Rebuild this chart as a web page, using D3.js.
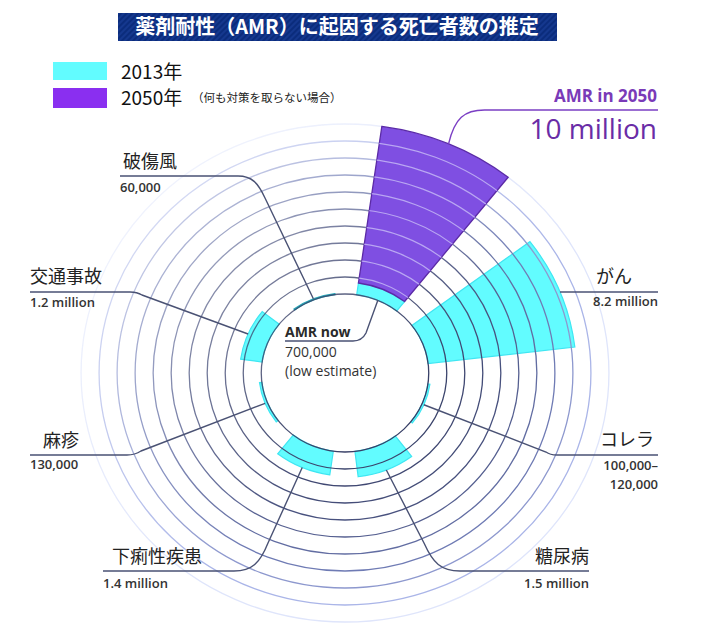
<!DOCTYPE html>
<html><head><meta charset="utf-8">
<script src="https://cdn.jsdelivr.net/npm/d3@7"></script>
<style>body{margin:0;background:#fff}</style>
</head><body><svg id="c" width="718" height="633"></svg>
<script>
// ---- data (values in millions of deaths per year) ----
const categories = ["AMR", "がん", "コレラ", "糖尿病", "下痢性疾患", "麻疹", "交通事故", "破傷風"];
const values2013 = [0.7, 8.2, 0.11, 1.5, 1.4, 0.13, 1.2, 0.06];
const amr2050 = 10;
const valueLabels = ["700,000", "8.2 million", "100,000–|120,000", "1.5 million", "1.4 million", "130,000", "1.2 million", "60,000"];
const ringTicks = [0, 1, 2, 3, 4, 5, 6, 7, 8, 9, 10];
const legendLabels = ["2013年", "2050年"];
const title = "薬剤耐性（AMR）に起因する死亡者数の推定";

const svg = d3.select("#c");
const cx = 345, cy = 373, sx = 1.06;
const CYAN = "#62fcff", PURPLE = "#7f4fe2", PURPLE_LEG = "#8a2ff0";
const JP = "'Noto Sans CJK JP','Noto Sans',sans-serif";
const LAT = "'Open Sans','Noto Sans',sans-serif";
const LINE = "#4a5274";

const defs = svg.append("defs");
const pat = defs.append("pattern").attr("id", "stripes").attr("patternUnits", "userSpaceOnUse")
  .attr("width", 4).attr("height", 4).attr("patternTransform", "rotate(45)");
pat.append("rect").attr("width", 4).attr("height", 4).attr("fill", "#0b2c7c");
pat.append("rect").attr("width", 2).attr("height", 4).attr("fill", "#15388e");

// fade mask for the rings (upper-left lighter)
const lg = defs.append("linearGradient").attr("id", "fadeGrad").attr("gradientUnits", "userSpaceOnUse")
  .attr("x1", 110).attr("y1", 130).attr("x2", 380).attr("y2", 420);
lg.append("stop").attr("offset", 0).attr("stop-color", "#fff").attr("stop-opacity", 0.35);
lg.append("stop").attr("offset", 1).attr("stop-color", "#fff").attr("stop-opacity", 1);
defs.append("mask").attr("id", "fade").attr("maskUnits", "userSpaceOnUse")
  .attr("x", 0).attr("y", 0).attr("width", 718).attr("height", 633)
  .append("rect").attr("width", 718).attr("height", 633).attr("fill", "url(#fadeGrad)");

// title
svg.append("rect").attr("x", 118).attr("y", 13).attr("width", 439).attr("height", 28).attr("fill", "url(#stripes)");
svg.append("text").attr("x", 337).attr("y", 34).attr("text-anchor", "middle")
  .attr("font-family", JP).attr("font-weight", 700).attr("font-size", 20).attr("fill", "#fff").text(title);

// legend
const legColors = [CYAN, PURPLE_LEG];
legendLabels.forEach((t, i) => {
  svg.append("rect").attr("x", 53).attr("y", 62 + i * 26).attr("width", 54).attr("height", i ? 20 : 18).attr("fill", legColors[i]);
  svg.append("text").attr("x", 121).attr("y", 79 + i * 26).attr("font-family", JP).attr("font-size", 19).attr("fill", "#111").text(t);
});
svg.append("text").attr("x", 192).attr("y", 102).attr("font-family", JP).attr("font-size", 11.5).attr("fill", "#222").text("（何も対策を取らない場合）");

// scales
const r = d3.scaleLinear().domain([0, 10]).range([79, 249]);
const ang = d3.scaleBand().domain(categories)
  .range([0.6 * Math.PI / 180, 360.6 * Math.PI / 180]).paddingInner(0.33).paddingOuter(0.165);
const mid = c => ang(c) + ang.bandwidth() / 2;
const pt = (a, rr) => [cx + sx * rr * Math.sin(a), cy - rr * Math.cos(a)];
const tf = `translate(${cx},${cy}) scale(${sx},1)`;
const arc = d3.arc();

// cyan 2013 wedges
const g = svg.append("g").attr("transform", tf);
categories.forEach((c, i) => {
  g.append("path").attr("d", arc({innerRadius: r(0), outerRadius: r(values2013[i]), startAngle: ang(c), endAngle: ang(c) + ang.bandwidth()}))
    .attr("fill", CYAN).attr("stroke", c === "破傷風" ? "#2aa8b8" : "#3fe6f2").attr("stroke-width", 1.2)
    .attr("vector-effect", "non-scaling-stroke");
});

// rings
const ringColor = d3.scaleLinear().domain([0, 4, 7, 9, 10]).range(["#373f66", "#48517e", "#6f7bb4", "#aab5e8", "#dfe5fb"]);
svg.append("g").attr("mask", "url(#fade)").append("g").attr("transform", tf)
  .selectAll("circle").data(ringTicks).join("circle")
  .attr("r", d => r(d)).attr("fill", "none")
  .attr("stroke", d => ringColor(d)).attr("stroke-width", 1.3)
  .attr("vector-effect", "non-scaling-stroke");

// purple 2050 wedge
const g2 = svg.append("g").attr("transform", tf);
const amrArc = {innerRadius: r(values2013[0]), outerRadius: r(amr2050), startAngle: ang("AMR"), endAngle: ang("AMR") + ang.bandwidth()};
defs.append("clipPath").attr("id", "pclip").append("path").attr("d", arc(amrArc));
g2.append("path").attr("d", arc(amrArc)).attr("fill", PURPLE).attr("stroke", "#5b2aa6").attr("stroke-width", 1.3)
  .attr("vector-effect", "non-scaling-stroke");
g2.append("g").attr("clip-path", "url(#pclip)").selectAll("circle").data(ringTicks.slice(1, 10)).join("circle")
  .attr("r", d => r(d)).attr("fill", "none").attr("stroke", "#b9a6f2").attr("stroke-width", 1.2)
  .attr("vector-effect", "non-scaling-stroke");

// leaders
function leader(d, color) {
  svg.append("path").attr("d", d).attr("fill", "none").attr("stroke", color || LINE).attr("stroke-width", 1.4);
}
const P = (c, v) => pt(mid(c), r(v));
let p;
p = P("AMR", amr2050);
leader(`M${p[0]},${p[1]} C${p[0] + 6},${p[1] - 26} ${p[0] + 16},110 ${p[0] + 36},110 H658`, "#7b3fc4");
p = P("AMR", 0);
leader(`M${p[0]},${p[1]} L366,333 Q362,341 353,341 H285`);
{
  const rr = r(values2013[1]);
  const a = Math.acos((cy - 292) / rr);
  leader(`M${cx + sx * rr * Math.sin(a)},292 H658`);
}
p = P("コレラ", values2013[2]);
leader(`M${p[0]},${p[1]} L546,452 Q550,455 557,455 H658`);
p = P("糖尿病", values2013[3]);
leader(`M${p[0]},${p[1]} L424,543 C433,563 441,571 460,571 H589`);
p = P("下痢性疾患", values2013[4]);
leader(`M${p[0]},${p[1]} L268,543 C260,563 252,571 234,571 H103`);
p = P("麻疹", values2013[5]);
leader(`M${p[0]},${p[1]} L141,451 Q135,455 127,455 H30`);
p = P("交通事故", values2013[6]);
leader(`M${p[0]},${p[1]} L142,295 Q137,292 130,292 H30`);
p = P("破傷風", values2013[7]);
leader(`M${p[0]},${p[1]} L265,198 C258,183 252,176 238,176 H120`);

// labels
function jp(x, y, t, anchor) {
  svg.append("text").attr("x", x).attr("y", y).attr("text-anchor", anchor || "start")
    .attr("font-family", JP).attr("font-size", 18).attr("fill", "#222").text(t);
}
function val(x, y, t, anchor) {
  svg.append("text").attr("x", x).attr("y", y).attr("text-anchor", anchor || "start")
    .attr("font-family", LAT).attr("font-weight", 600).attr("font-size", 13).attr("fill", "#333").text(t);
}
const lab = c => valueLabels[categories.indexOf(c)];
jp(123, 168, "破傷風"); val(120, 192, lab("破傷風"));
jp(30, 283, "交通事故"); val(30, 307, lab("交通事故"));
jp(43, 447, "麻疹"); val(30, 469, lab("麻疹"));
jp(112, 563, "下痢性疾患"); val(103, 588, lab("下痢性疾患"));
jp(589, 563, "糖尿病", "end"); val(589, 588, lab("糖尿病"), "end");
jp(654, 446, "コレラ", "end");
lab("コレラ").split("|").forEach((s, i) => val(658, 470 + i * 19, s, "end"));
jp(632, 283, "がん", "end"); val(658, 306, lab("がん"), "end");

// AMR texts
svg.append("text").attr("x", 657).attr("y", 102).attr("text-anchor", "end")
  .attr("font-family", LAT).attr("font-weight", 700).attr("font-size", 17).attr("fill", "#7a3ab8").text("AMR in 2050");
svg.append("text").attr("x", 657).attr("y", 139).attr("text-anchor", "end")
  .attr("font-family", LAT).attr("font-weight", 400).attr("font-size", 28).attr("fill", "#6a2ca6").text(amr2050 + " million");
svg.append("text").attr("x", 285).attr("y", 337).attr("font-family", LAT).attr("font-weight", 700).attr("font-size", 14).attr("fill", "#2a2a2a").text("AMR now");
svg.append("text").attr("x", 285).attr("y", 357).attr("font-family", LAT).attr("font-size", 14).attr("fill", "#333").text(valueLabels[0]);
svg.append("text").attr("x", 285).attr("y", 376).attr("font-family", LAT).attr("font-size", 14).attr("fill", "#333").text("(low estimate)");
</script></body></html>
